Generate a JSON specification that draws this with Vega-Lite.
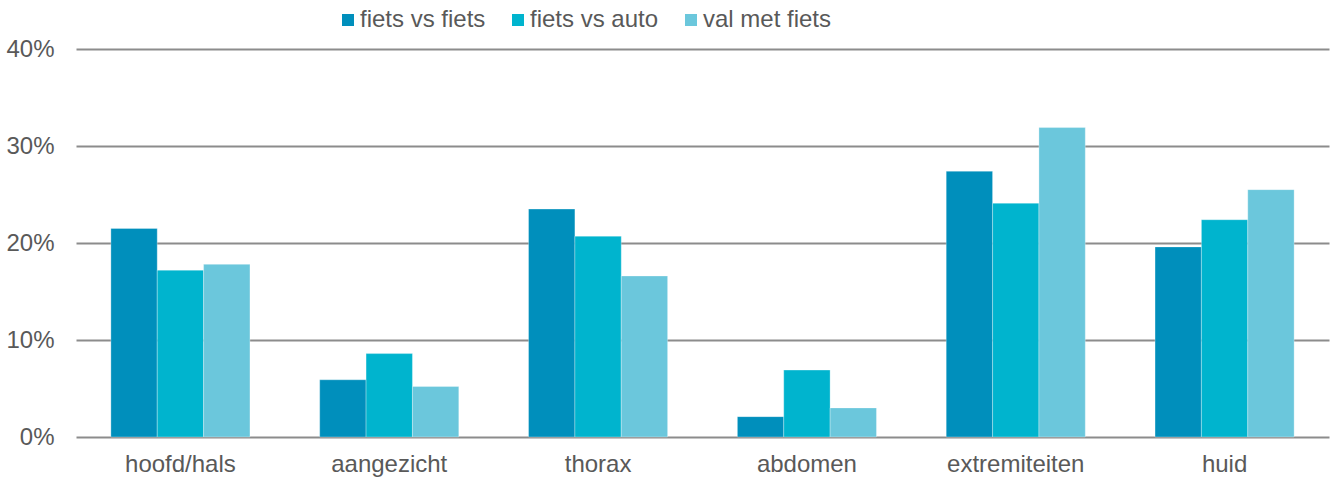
{
  "$schema": "https://vega.github.io/schema/vega-lite/v6.json",
  "autosize": "none",
  "width": 1253,
  "height": 388,
  "padding": {"left": 76, "top": 49, "right": 5, "bottom": 42},
  "background": "white",
  "config": {
    "font": "Liberation Sans",
    "view": {"stroke": null}
  },
  "data": {
    "values": [
      {"deel": "hoofd/hals", "type": "fiets vs fiets", "waarde": 0.215},
      {"deel": "hoofd/hals", "type": "fiets vs auto", "waarde": 0.172},
      {"deel": "hoofd/hals", "type": "val met fiets", "waarde": 0.178},
      {"deel": "aangezicht", "type": "fiets vs fiets", "waarde": 0.059},
      {"deel": "aangezicht", "type": "fiets vs auto", "waarde": 0.086},
      {"deel": "aangezicht", "type": "val met fiets", "waarde": 0.052},
      {"deel": "thorax", "type": "fiets vs fiets", "waarde": 0.235},
      {"deel": "thorax", "type": "fiets vs auto", "waarde": 0.207},
      {"deel": "thorax", "type": "val met fiets", "waarde": 0.166},
      {"deel": "abdomen", "type": "fiets vs fiets", "waarde": 0.021},
      {"deel": "abdomen", "type": "fiets vs auto", "waarde": 0.069},
      {"deel": "abdomen", "type": "val met fiets", "waarde": 0.030},
      {"deel": "extremiteiten", "type": "fiets vs fiets", "waarde": 0.274},
      {"deel": "extremiteiten", "type": "fiets vs auto", "waarde": 0.241},
      {"deel": "extremiteiten", "type": "val met fiets", "waarde": 0.319},
      {"deel": "huid", "type": "fiets vs fiets", "waarde": 0.196},
      {"deel": "huid", "type": "fiets vs auto", "waarde": 0.224},
      {"deel": "huid", "type": "val met fiets", "waarde": 0.255}
    ]
  },
  "mark": {"type": "bar", "stroke": "white", "strokeWidth": 0.5, "strokeOpacity": 0.6},
  "encoding": {
    "x": {
      "field": "deel",
      "type": "nominal",
      "sort": ["hoofd/hals", "aangezicht", "thorax", "abdomen", "extremiteiten", "huid"],
      "scale": {"paddingInner": 0.334, "paddingOuter": 0.167},
      "axis": {
        "title": null,
        "labelAngle": 0,
        "labelFontSize": 24,
        "labelColor": "#595959",
        "labelPadding": 15,
        "ticks": false,
        "domain": false,
        "grid": false
      }
    },
    "xOffset": {
      "field": "type",
      "type": "nominal",
      "sort": ["fiets vs fiets", "fiets vs auto", "val met fiets"],
      "scale": {"paddingInner": 0, "paddingOuter": 0}
    },
    "y": {
      "field": "waarde",
      "type": "quantitative",
      "scale": {"domain": [0, 0.4], "nice": false},
      "axis": {
        "title": null,
        "format": ".0%",
        "values": [0, 0.1, 0.2, 0.3, 0.4],
        "labelFontSize": 24,
        "labelColor": "#595959",
        "labelPadding": 22,
        "ticks": false,
        "domain": false,
        "grid": true,
        "gridColor": "#8c8c8c",
        "gridWidth": 2
      }
    },
    "color": {
      "field": "type",
      "type": "nominal",
      "sort": ["fiets vs fiets", "fiets vs auto", "val met fiets"],
      "scale": {
        "domain": ["fiets vs fiets", "fiets vs auto", "val met fiets"],
        "range": ["#008FBC", "#00B4CE", "#6BC7DC"]
      },
      "legend": {
        "title": null,
        "orient": "none",
        "direction": "horizontal",
        "gridAlign": "none",
        "legendX": 260,
        "legendY": -41,
        "symbolType": "square",
        "symbolSize": 144,
        "symbolStrokeWidth": 0,
        "labelFontSize": 24,
        "labelColor": "#595959",
        "labelOffset": 0,
        "columnPadding": 20
      }
    }
  }
}
